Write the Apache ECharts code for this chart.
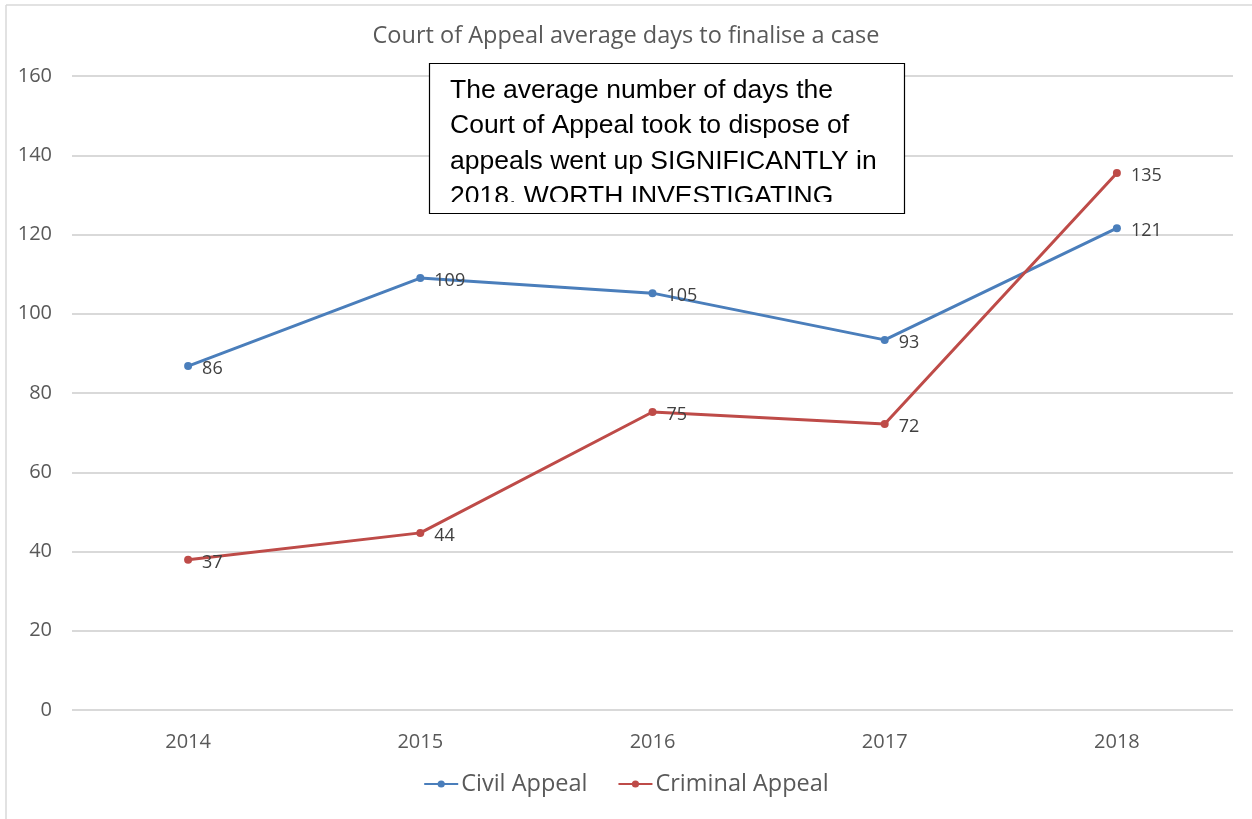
<!DOCTYPE html>
<html lang="en">
<head>
    <meta charset="UTF-8">
    <title>Court of Appeal average days to finalise a case</title>
    <script type="text/javascript" src="https://cdn.jsdelivr.net/npm/echarts@6/dist/echarts.min.js"></script>
    <style>
        html, body { margin: 0; padding: 0; background: #fff; }
        #chart { width: 1252px; height: 819px; }
    </style>
</head>
<body>
<div id="chart"></div>
<script type="text/javascript">

    var years = ['2014', '2015', '2016', '2017', '2018'];
    var civilAppeal = [86.8, 109.0, 105.2, 93.4, 121.6];
    var criminalAppeal = [37.9, 44.7, 75.2, 72.2, 135.5];
    var yTicks = [0, 20, 40, 60, 80, 100, 120, 140, 160];

    var noteLines = [
        'The average number of days the',
        'Court of Appeal took to dispose of',
        'appeals went up SIGNIFICANTLY in',
        '2018. WORTH INVESTIGATING'
    ];

    var axisFont = 'Open Sans, Noto Sans, sans-serif';

    var myChart = echarts.init(document.getElementById('chart'));

    function lineSeries(name, data, color) {
        return {
            name: name,
            type: 'line',
            data: data,
            symbol: 'circle',
            symbolSize: 8,
            lineStyle: { width: 3, color: color },
            itemStyle: { color: color },
            label: {
                show: true,
                position: 'right',
                offset: [5, 3],
                color: '#404040',
                fontSize: 18,
                fontFamily: axisFont,
                formatter: function (p) { return Math.floor(p.value); }
            },
            emphasis: { disabled: true }
        };
    }

    var option = {
        animation: false,
        backgroundColor: '#fff',
        title: {
            text: 'Court of Appeal average days to finalise a case',
            left: 'center',
            top: 19,
            textStyle: {
                color: '#595959',
                fontSize: 23.5,
                fontWeight: 'normal',
                fontFamily: axisFont
            }
        },
        legend: {
            bottom: 18,
            left: 'center',
            itemWidth: 34,
            itemHeight: 9,
            itemGap: 30,
            textStyle: { color: '#595959', fontSize: 23.5, fontFamily: axisFont, padding: [0, 0, 0, -2] },
            data: ['Civil Appeal', 'Criminal Appeal']
        },
        grid: { left: 72, right: 19, top: 76, bottom: 109 },
        xAxis: {
            type: 'category',
            data: years,
            boundaryGap: true,
            axisLine: { show: false },
            axisTick: { show: false },
            axisLabel: { color: '#595959', fontSize: 20, fontFamily: axisFont, margin: 22 }
        },
        yAxis: {
            type: 'value',
            min: yTicks[0],
            max: yTicks[yTicks.length - 1],
            interval: 20,
            axisLine: { show: false },
            axisTick: { show: false },
            axisLabel: { color: '#595959', fontSize: 20, fontFamily: axisFont, margin: 20 },
            splitLine: { lineStyle: { color: '#d9d9d9', width: 2 } }
        },
        series: [
            lineSeries('Civil Appeal', civilAppeal, '#4a7ebb'),
            lineSeries('Criminal Appeal', criminalAppeal, '#be4b48')
        ],
        graphic: [
            // outer chart frame (only top and left edge are visible)
            { type: 'line', shape: { x1: 6, y1: 5, x2: 1252, y2: 5 }, style: { stroke: '#d9d9d9', lineWidth: 1.5 }, z: 100 },
            { type: 'line', shape: { x1: 6, y1: 5, x2: 6, y2: 819 }, style: { stroke: '#d9d9d9', lineWidth: 1.5 }, z: 100 },
            // annotation box
            {
                type: 'rect',
                shape: { x: 429.5, y: 63.5, width: 475, height: 150 },
                style: { fill: '#fff', stroke: '#000', lineWidth: 1.2 },
                z: 100
            },
            {
                type: 'text',
                left: 450,
                top: 73,
                style: {
                    text: noteLines.join('\n'),
                    fill: '#000',
                    font: '26.5px "Liberation Sans", Arial, sans-serif',
                    lineHeight: 35.4
                },
                z: 101
            },
            // the source text box cuts off the bottom of the last line
            {
                type: 'rect',
                shape: { x: 431, y: 202, width: 472, height: 10.5 },
                style: { fill: '#fff' },
                z: 102
            }
        ]
    };

    myChart.setOption(option);

</script>
</body>
</html>
